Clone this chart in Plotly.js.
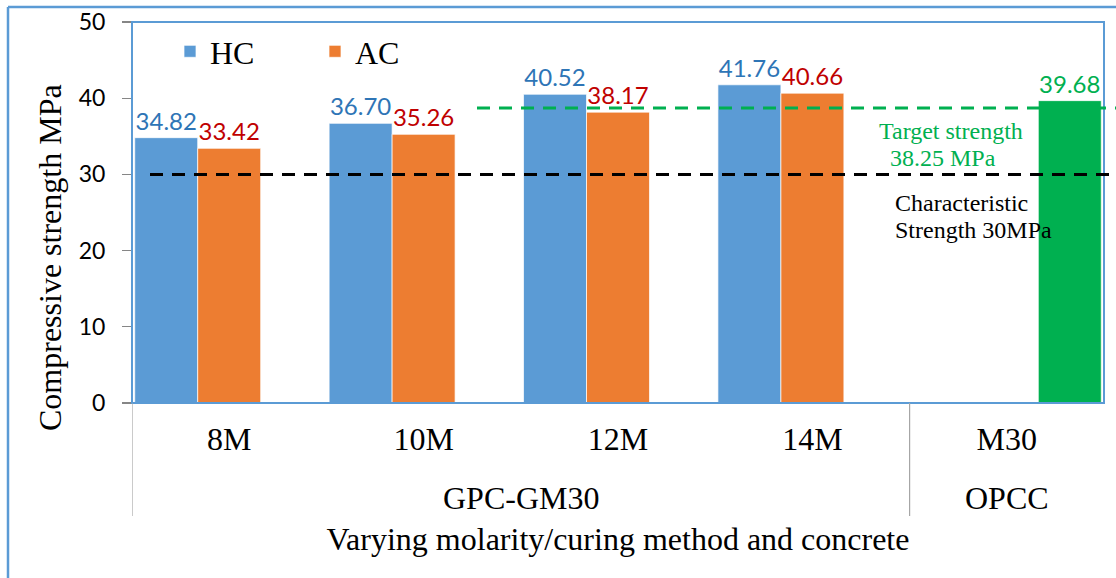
<!DOCTYPE html>
<html>
<head>
<meta charset="utf-8">
<script src="https://cdn.plot.ly/plotly-3.0.1.min.js"></script>
<style>html,body{margin:0;padding:0;background:#fff;}#chart{width:1116px;height:578px;}</style>
</head>
<body>
<div id="chart"></div>
<script>
// ---- data ----
var categories = ['8M', '10M', '12M', '14M', 'M30'];
var gpcCategories = ['8M', '10M', '12M', '14M'];
var opccCategories = ['M30'];
var hcValues = [34.82, 36.70, 40.52, 41.76];
var acValues = [33.42, 35.26, 38.17, 40.66];
var opccValues = [39.68];
var groupLabels = ['GPC-GM30', 'OPCC'];
var groupCenters = [1.5, 4];
var groupBoundaries = [-0.5, 3.5];
var characteristicStrength = 30;
var targetStrengthLine = 38.7;
var yTicks = [0, 10, 20, 30, 40, 50];

// ---- layout helpers (pixel geometry) ----
var W = 1116, H = 578;
var mL = 132, mR = 12, mT = 22, mB = 175;
var pw = W - mL - mR, ph = H - mT - mB;
function px(x) { return (x - mL) / pw; }
function py(y) { return (H - mB - y) / ph; }

var serif = 'Liberation Serif, Times New Roman, serif';
var sans = 'Lato, Liberation Sans, Arial, sans-serif';
var blueFrame = '#5B9BD5';

var traces = [
  {
    type: 'bar', name: 'HC', x: gpcCategories, y: hcValues,
    marker: {color: '#5B9BD5', line: {color: 'rgba(255,255,255,0.7)', width: 1}},
    texttemplate: '%{y:.2f}', textposition: 'outside', cliponaxis: false,
    outsidetextfont: {family: sans, size: 24, color: '#2E75B6'},
    hoverinfo: 'x+y+name'
  },
  {
    type: 'bar', name: 'AC', x: gpcCategories, y: acValues,
    marker: {color: '#ED7D31', line: {color: 'rgba(255,255,255,0.7)', width: 1}},
    texttemplate: '%{y:.2f}', textposition: 'outside', cliponaxis: false,
    outsidetextfont: {family: sans, size: 24, color: '#C00000'},
    hoverinfo: 'x+y+name'
  },
  {
    type: 'bar', name: 'OPCC', x: opccCategories, y: opccValues, showlegend: false,
    marker: {color: '#00B050', line: {color: 'rgba(255,255,255,0.7)', width: 1}},
    texttemplate: '%{y:.2f}', textposition: 'outside', cliponaxis: false,
    outsidetextfont: {family: sans, size: 24, color: '#00B050'},
    hoverinfo: 'x+y+name'
  }
];

var shapes = [
  // plot frame
  {type: 'rect', xref: 'paper', yref: 'paper', x0: 0, x1: 1, y0: 0, y1: 1,
   line: {color: blueFrame, width: 2}, layer: 'above'},
  // outer chart frame (left + top)
  {type: 'line', xref: 'paper', yref: 'paper', x0: px(8), x1: px(8), y0: py(7), y1: py(H + 5),
   line: {color: blueFrame, width: 2.5}},
  {type: 'line', xref: 'paper', yref: 'paper', x0: px(8), x1: px(W + 5), y0: py(7), y1: py(7),
   line: {color: blueFrame, width: 2.5}},
  // reference lines
  {type: 'line', xref: 'paper', yref: 'y', x0: px(150), x1: px(W + 5),
   y0: characteristicStrength, y1: characteristicStrength,
   line: {color: '#000000', width: 3, dash: '13px,9px'}, layer: 'above'},
  {type: 'line', xref: 'paper', yref: 'y', x0: px(477), x1: px(W + 5),
   y0: targetStrengthLine, y1: targetStrengthLine,
   line: {color: '#00B050', width: 3, dash: '13px,9px'}, layer: 'above'}
];
groupBoundaries.forEach(function (b) {
  shapes.push({type: 'line', xref: 'x', yref: 'paper', x0: b, x1: b, y0: 0, y1: py(516),
    line: {color: '#A6A6A6', width: 1.2}});
});

var annotations = [];
groupLabels.forEach(function (g, i) {
  annotations.push({xref: 'x', yref: 'paper', x: groupCenters[i], y: py(498),
    text: g, showarrow: false, xanchor: 'center', yanchor: 'middle',
    font: {family: serif, size: 32, color: '#000'}});
});
annotations.push(
  // y-axis title (placed like the original, centred on the chart body)
  {xref: 'paper', yref: 'paper', x: px(50), y: py(258), text: 'Compressive strength MPa',
   textangle: -90, showarrow: false, xanchor: 'center', yanchor: 'middle',
   font: {family: serif, size: 32, color: '#000'}},
  {xref: 'paper', yref: 'paper', x: px(951), y: py(131), text: 'Target strength',
   showarrow: false, xanchor: 'center', yanchor: 'middle',
   font: {family: serif, size: 24, color: '#00B050'}},
  {xref: 'paper', yref: 'paper', x: px(943), y: py(158), text: '38.25 MPa',
   showarrow: false, xanchor: 'center', yanchor: 'middle',
   font: {family: serif, size: 24, color: '#00B050'}},
  {xref: 'paper', yref: 'paper', x: px(893), y: py(203), text: 'Characteristic',
   showarrow: false, xanchor: 'left', yanchor: 'middle',
   font: {family: serif, size: 24, color: '#000'}},
  {xref: 'paper', yref: 'paper', x: px(893), y: py(230), text: 'Strength 30MPa',
   showarrow: false, xanchor: 'left', yanchor: 'middle',
   font: {family: serif, size: 24, color: '#000'}}
);

var layout = {
  width: W, height: H,
  margin: {l: mL, r: mR, t: mT, b: mB, pad: 0},
  paper_bgcolor: '#ffffff', plot_bgcolor: '#ffffff',
  barmode: 'group', bargap: 0.028, bargroupgap: 0,
  showlegend: true,
  legend: {orientation: 'h', x: px(170), y: py(24), xanchor: 'left', yanchor: 'top',
    font: {family: serif, size: 32, color: '#000'}, bgcolor: 'rgba(0,0,0,0)',
    entrywidth: 100, entrywidthmode: 'pixels', traceorder: 'normal'},
  xaxis: {
    type: 'category', categoryorder: 'array', categoryarray: categories,
    range: [-0.5, categories.length - 0.5],
    showgrid: false, zeroline: false, showline: false, ticks: '',
    tickfont: {family: serif, size: 32, color: '#000'},
    ticklabelstandoff: 14, automargin: false,
    title: {text: 'Varying molarity/curing method and concrete',
      font: {family: serif, size: 32, color: '#000'}, standoff: 71}
  },
  yaxis: {
    range: [0, 50], tickvals: yTicks, showgrid: false, zeroline: false, showline: false,
    ticks: 'outside', ticklen: 9, tickcolor: '#868686', tickwidth: 1.2,
    tickfont: {family: sans, size: 23, color: '#000'},
    ticklabelstandoff: 12, automargin: false
  },
  shapes: shapes,
  annotations: annotations
};

Plotly.newPlot('chart', traces, layout, {displayModeBar: false, staticPlot: true});
</script>
</body>
</html>
